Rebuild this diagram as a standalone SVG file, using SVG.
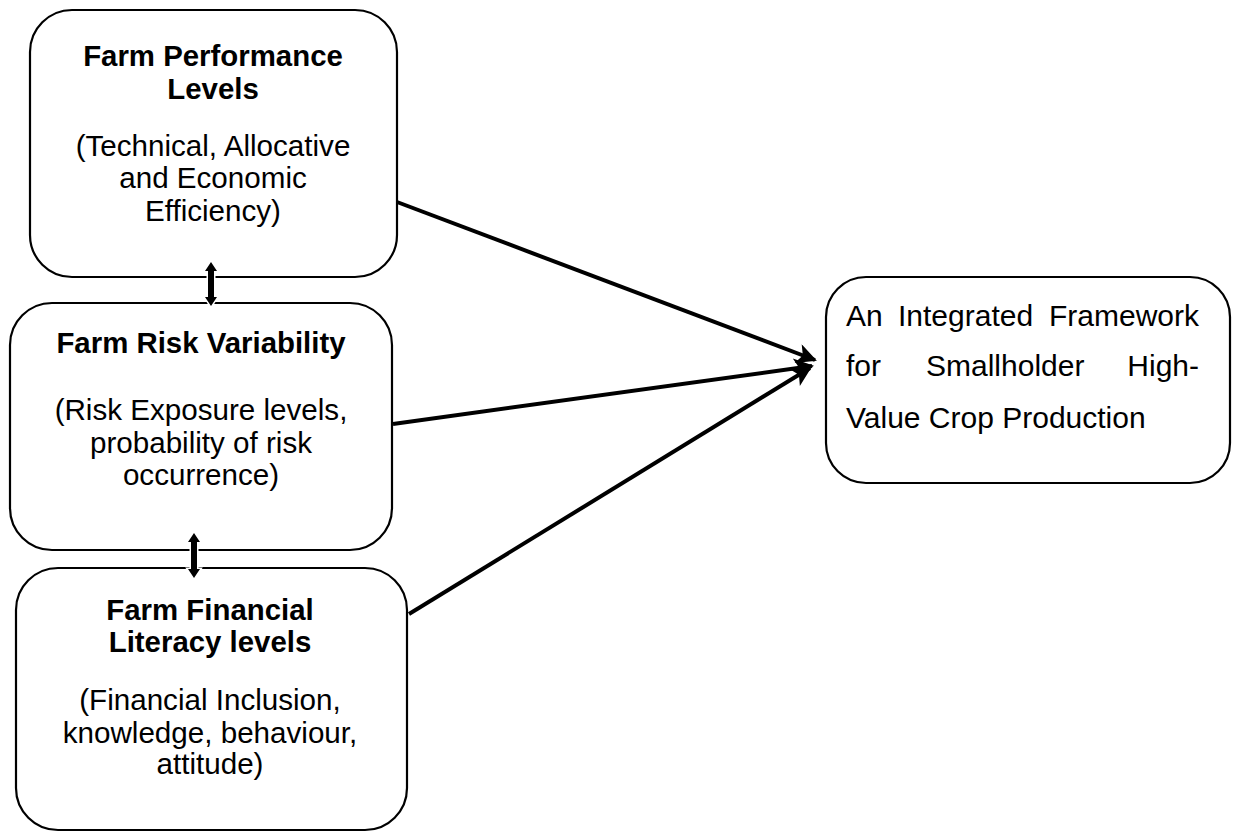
<svg xmlns="http://www.w3.org/2000/svg" width="1233" height="832" viewBox="0 0 1233 832">
  <style>
    .box { fill: #ffffff; stroke: #000000; stroke-width: 2.2; }
    .title { font-family: "Liberation Sans", Arial, sans-serif; font-weight: bold; font-size: 29.4px; fill: #000; text-anchor: middle; }
    .body { font-family: "Liberation Sans", Arial, sans-serif; font-size: 29.6px; fill: #000; text-anchor: middle; }
    .out { font-family: "Liberation Sans", Arial, sans-serif; font-size: 30px; fill: #000; }
    .link { stroke: #000; stroke-width: 4; fill: none; marker-end: url(#head); }
    .dbl { fill: #000; stroke: #fff; stroke-width: 3; paint-order: stroke; }
  </style>
  <defs>
    <marker id="head" viewBox="0 0 10 10" refX="9" refY="5" markerWidth="5.5" markerHeight="5" orient="auto" markerUnits="strokeWidth">
      <path d="M0,0 L10,5 L0,10 L2.5,5 Z" fill="#000"/>
    </marker>
  </defs>

  <rect width="1233" height="832" fill="#ffffff"/>

  <g id="node-performance">
    <rect class="box" x="30" y="10" width="367" height="267" rx="42" ry="42"/>
    <text class="title" x="213" y="66">Farm Performance</text>
    <text class="title" x="213" y="99">Levels</text>
    <text class="body" x="213" y="156">(Technical, Allocative</text>
    <text class="body" x="213" y="188">and Economic</text>
    <text class="body" x="213" y="221">Efficiency)</text>
  </g>

  <g id="node-risk">
    <rect class="box" x="10" y="303" width="382" height="247" rx="42" ry="42"/>
    <text class="title" x="201" y="353">Farm Risk Variability</text>
    <text class="body" x="201" y="420">(Risk Exposure levels,</text>
    <text class="body" x="201" y="453">probability of risk</text>
    <text class="body" x="201" y="485">occurrence)</text>
  </g>

  <g id="node-literacy">
    <rect class="box" x="16" y="568" width="391" height="262" rx="42" ry="42"/>
    <text class="title" x="210" y="620">Farm Financial</text>
    <text class="title" x="210" y="652">Literacy levels</text>
    <text class="body" x="210" y="710">(Financial Inclusion,</text>
    <text class="body" x="210" y="743">knowledge, behaviour,</text>
    <text class="body" x="210" y="774">attitude)</text>
  </g>

  <g id="node-framework">
    <rect class="box" x="826" y="277" width="404" height="206" rx="40" ry="40"/>
    <!-- justified paragraph: words placed one by one -->
    <text class="out" x="846" y="326">An</text>
    <text class="out" x="898" y="326">Integrated</text>
    <text class="out" x="1199" y="326" text-anchor="end">Framework</text>
    <text class="out" x="846" y="376">for</text>
    <text class="out" x="926" y="376">Smallholder</text>
    <text class="out" x="1199" y="376" text-anchor="end">High-</text>
    <text class="out" x="846" y="428">Value Crop Production</text>
  </g>

  <g id="connectors">
    <line class="link" x1="397" y1="202" x2="815" y2="360"/>
    <line class="link" x1="393" y1="424" x2="812" y2="366"/>
    <line class="link" x1="409" y1="614" x2="810" y2="368"/>
    <!-- two-way links between the stacked boxes -->
    <path class="dbl" d="M211,262 L217,271 L214,271 L214,297 L217,297 L211,306 L205,297 L208,297 L208,271 L205,271 Z"/>
    <path class="dbl" d="M194,533 L200,542 L197,542 L197,569 L200,569 L194,578 L188,569 L191,569 L191,542 L188,542 Z"/>
  </g>
</svg>
